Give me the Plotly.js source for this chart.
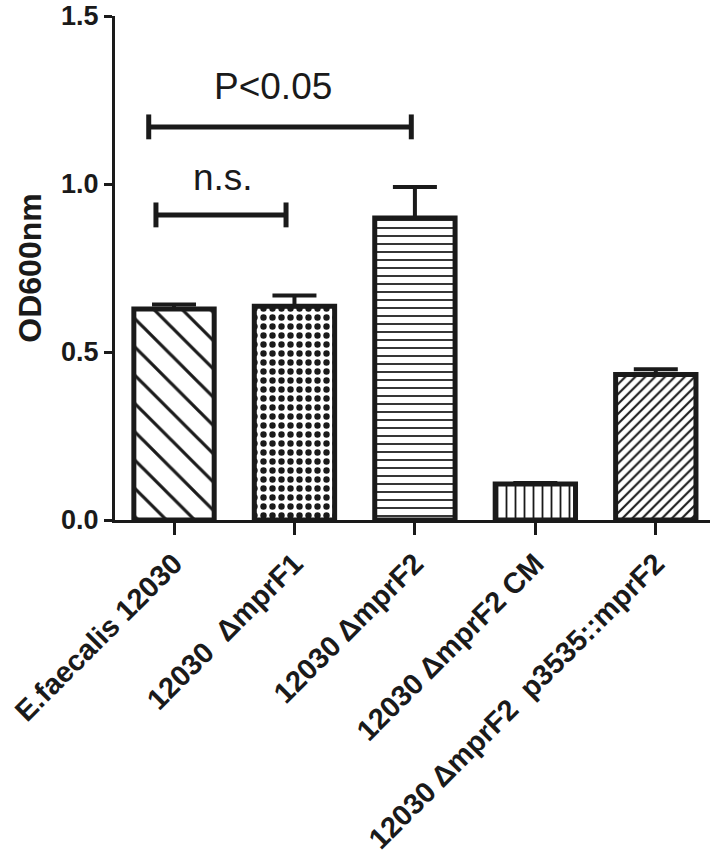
<!DOCTYPE html>
<html>
<head>
<meta charset="utf-8">
<script src="https://cdn.plot.ly/plotly-3.0.1.min.js"></script>
<style>
  html, body { margin: 0; padding: 0; background: #fff; }
  #chart { width: 722px; height: 865px; }
</style>
</head>
<body>
<div id="chart"></div>
<script>
// Bacterial growth (OD600) per strain
const strains = [
    'E.faecalis 12030',
    '12030\u00a0\u00a0\u0394mprF1',
    '12030 \u0394mprF2',
    '12030 \u0394mprF2 CM',
    '12030 \u0394mprF2\u00a0\u00a0p3535::mprF2'
];
const od600 = [0.628, 0.636, 0.899, 0.107, 0.433];
const od600Err = [0.013, 0.032, 0.092, 0.003, 0.016];
const fillShapes = ['\\', '.', '-', '|', '/'];

// significance brackets (from index, to index, height, label)
const bracketFrom = [-0.15, -0.21];
const bracketTo = [0.93, 1.97];
const bracketY = [0.908, 1.17];
const bracketText = ['n.s.', 'P<0.05'];
const labelX = [0.41, 0.82];
const labelY = [1.02, 1.29];

const fontFamily = '"Liberation Sans", Arial, Helvetica, sans-serif';

const patternSize = [20, 9, 8, 9, 7];
const patternSolidity = [0.16, 0.4, 0.22, 0.2, 0.3];

const xIdx = strains.map((s, i) => i);

const trace = {
    type: 'bar',
    x: xIdx,
    y: od600,
    width: 0.667,
    marker: {
        color: 'white',
        line: {color: '#1a1a1a', width: 5},
        pattern: {
            shape: fillShapes,
            size: patternSize,
            solidity: patternSolidity,
            fgcolor: '#1a1a1a',
            bgcolor: 'white',
            fillmode: 'replace'
        }
    },
    error_y: {
        type: 'data',
        symmetric: false,
        array: od600Err,
        arrayminus: od600Err.map(() => 0),
        color: '#1a1a1a',
        thickness: 4,
        width: 22
    },
    hoverinfo: 'none',
    showlegend: false
};

const shapes = [];
const annotations = [];
const capH = 0.037;
for (let i = 0; i < bracketY.length; i++) {
    const ln = {color: '#1a1a1a', width: 5};
    shapes.push({type: 'line', xref: 'x', yref: 'y', x0: bracketFrom[i], x1: bracketTo[i], y0: bracketY[i], y1: bracketY[i], line: ln});
    shapes.push({type: 'line', xref: 'x', yref: 'y', x0: bracketFrom[i], x1: bracketFrom[i], y0: bracketY[i] - capH, y1: bracketY[i] + capH, line: ln});
    shapes.push({type: 'line', xref: 'x', yref: 'y', x0: bracketTo[i], x1: bracketTo[i], y0: bracketY[i] - capH, y1: bracketY[i] + capH, line: ln});
    annotations.push({
        xref: 'x', yref: 'y',
        x: labelX[i],
        y: labelY[i],
        yanchor: 'middle',
        text: bracketText[i],
        showarrow: false,
        font: {family: fontFamily, size: 37, color: '#1a1a1a'}
    });
}

const layout = {
    width: 722,
    height: 865,
    margin: {l: 115, r: 12, t: 16, b: 345},
    paper_bgcolor: 'white',
    plot_bgcolor: 'white',
    font: {family: fontFamily, color: '#1a1a1a'},
    xaxis: {
        range: [-0.49, 4.45],
        tickvals: xIdx,
        ticktext: strains,
        tickangle: -45,
        showgrid: false,
        zeroline: false,
        showline: true,
        linecolor: '#1a1a1a',
        linewidth: 3,
        ticks: 'outside',
        ticklen: 12,
        tickwidth: 3,
        tickcolor: '#1a1a1a',
        tickfont: {family: fontFamily, size: 29, weight: 'bold', color: '#1a1a1a'}
    },
    yaxis: {
        range: [0, 1.5],
        tickvals: [0, 0.5, 1.0, 1.5],
        ticktext: ['0.0', '0.5', '1.0', '1.5'],
        showgrid: false,
        zeroline: false,
        showline: true,
        linecolor: '#1a1a1a',
        linewidth: 3,
        ticks: 'outside',
        ticklen: 8,
        tickwidth: 3,
        tickcolor: '#1a1a1a',
        automargin: 'left',
        tickfont: {family: fontFamily, size: 27, weight: 'bold', color: '#1a1a1a'},
        title: {text: 'OD600nm', standoff: 10, font: {family: fontFamily, size: 32, weight: 'bold', color: '#1a1a1a'}}
    },
    shapes: shapes,
    annotations: annotations
};

Plotly.newPlot('chart', [trace], layout, {displayModeBar: false, staticPlot: true});
</script>
</body>
</html>
